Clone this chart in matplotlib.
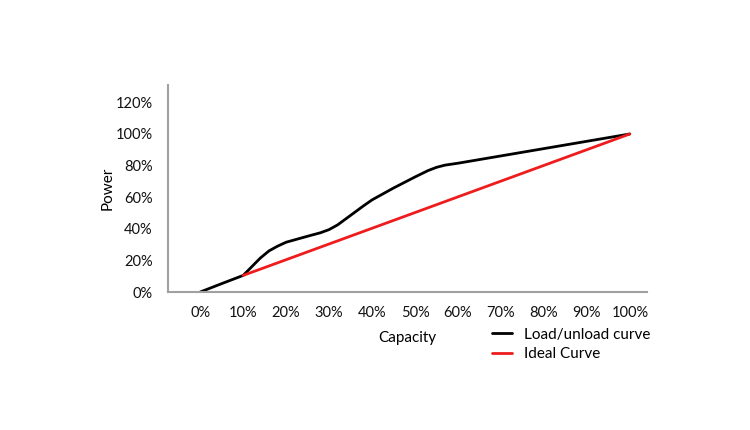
import matplotlib
matplotlib.use("Agg")
import matplotlib.pyplot as plt
from matplotlib.ticker import PercentFormatter

plt.rcParams['font.family'] = ['Lato', 'DejaVu Sans']

capacity_ticks = [0, 10, 20, 30, 40, 50, 60, 70, 80, 90, 100]
power_ticks = [0, 20, 40, 60, 80, 100, 120]

load_x = [0, 5, 10, 12, 14, 16, 18, 20, 25, 28, 30, 32, 34, 36, 38, 40, 42, 45, 50, 53, 55, 57, 60, 100]
load_y = [0, 5.3, 10.5, 16, 21.5, 26, 29, 31.5, 35.3, 37.5, 39.5, 42.5, 46.5, 50.5, 54.5, 58.3, 61.3, 65.8, 72.8, 76.8, 78.9, 80.3, 81.5, 100]

ideal_x = [10, 100]
ideal_y = [10.5, 100]

fig = plt.figure(figsize=(7.5, 4.3), dpi=100)
ax = fig.add_axes([168/750, (430-292)/430, (647-168)/750, (292-85)/430])

ax.plot(load_x, load_y, color='black', lw=2, label='Load/unload curve', solid_capstyle='round', solid_joinstyle='round')
ax.plot(ideal_x, ideal_y, color='#ee1c1c', lw=2, label='Ideal Curve', solid_capstyle='round')

ax.set_xlim(-7.5, 104)
ax.set_ylim(0, 131)
ax.set_xticks(capacity_ticks)
ax.set_yticks(power_ticks)
ax.xaxis.set_major_formatter(PercentFormatter(decimals=0))
ax.yaxis.set_major_formatter(PercentFormatter(decimals=0))
ax.tick_params(length=0, labelsize=10.5, colors='#111111')
ax.tick_params(axis='x', pad=10)
ax.tick_params(axis='y', pad=11)
for s in ['top', 'right']:
    ax.spines[s].set_visible(False)
for s in ['left', 'bottom']:
    ax.spines[s].set_color('#a0a0a0')
    ax.spines[s].set_linewidth(1.5)

ax.set_ylabel('Power', fontsize=11, labelpad=1)
fig.text(407/750, 1 - 338/430, 'Capacity', ha='center', va='center', fontsize=11)

leg = fig.legend(loc='upper left', bbox_to_anchor=(478/750, 1 - 314/430), frameon=False,
                 fontsize=11, handlelength=1.3, handletextpad=0.8, labelspacing=0.35)

fig.savefig('out.png', dpi=100)
